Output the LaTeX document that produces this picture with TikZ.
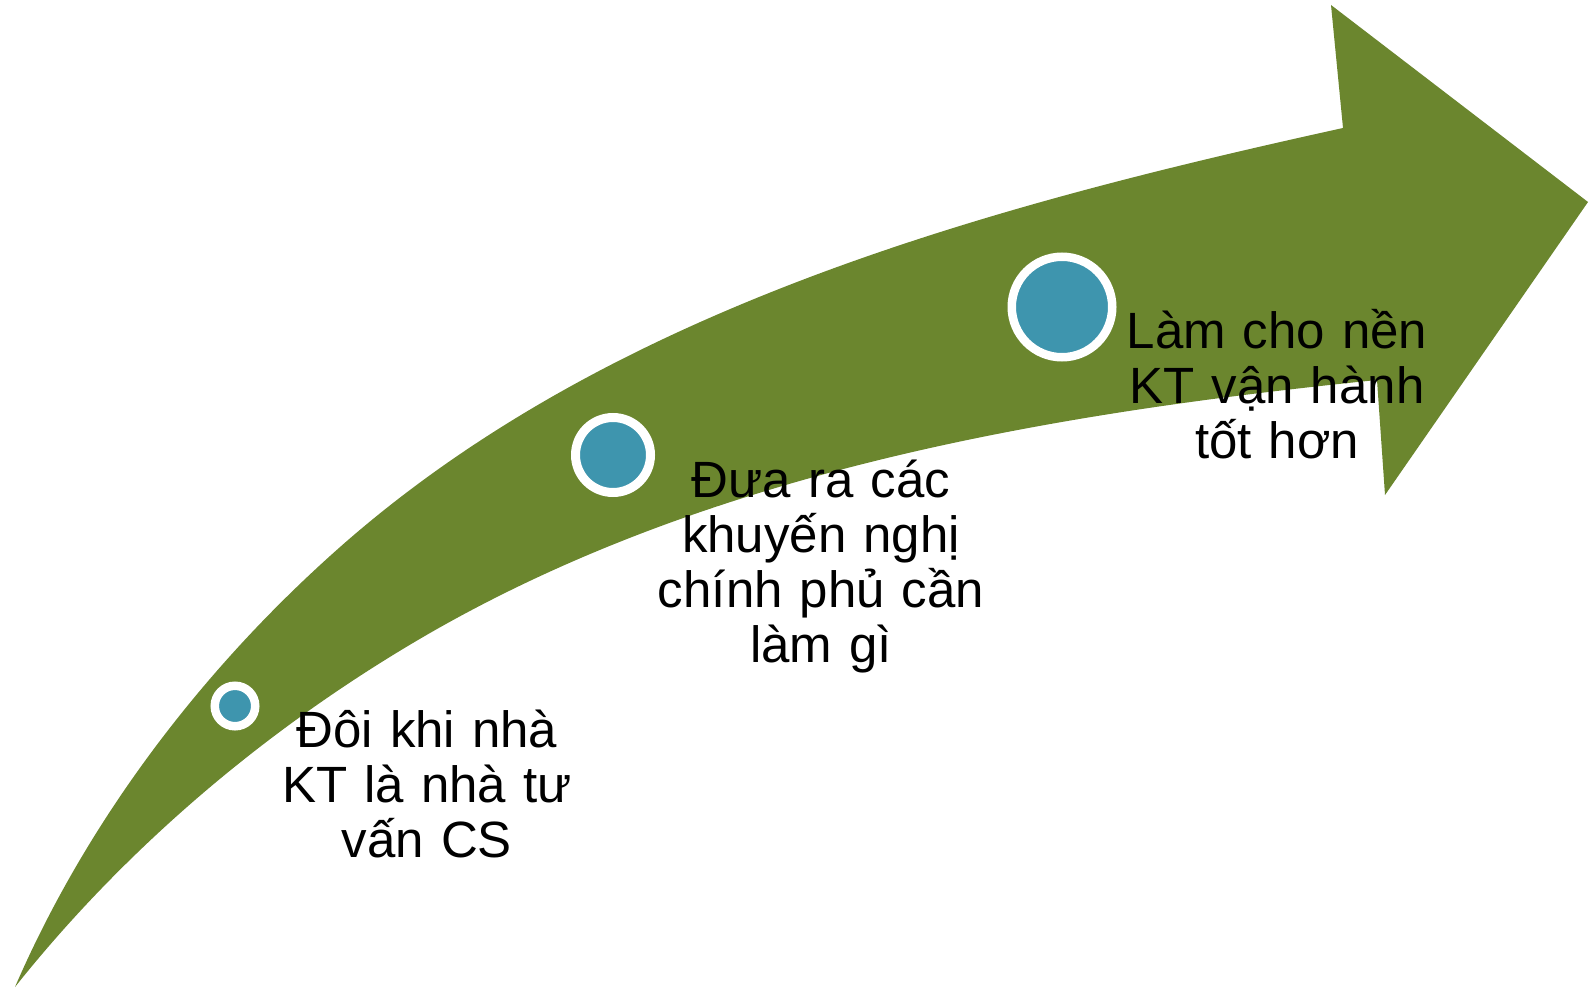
\documentclass[tikz,border=0pt]{standalone}
\usepackage{fontspec}
\setmainfont{Liberation Sans}
\definecolor{arrowgreen}{RGB}{107,134,46}
\definecolor{dotblue}{RGB}{62,149,174}
\begin{document}
\begin{tikzpicture}[x=1pt,y=-1pt,
  dotnode/.style={circle,fill=dotblue,draw=white,inner sep=0pt},
  label/.style={anchor=base,inner sep=0pt,text width=420pt,align=center,
    font=\fontsize{51}{55}\selectfont}]
\useasboundingbox (0,0) rectangle (1593,990);
\fill[arrowgreen]
  (15,987) .. controls (86,823) and (198,675) .. (330,556)
  .. controls (602,310) and (984,207) .. (1343,128)
  -- (1331,5) -- (1588,202) -- (1385,495) -- (1377,380)
  .. controls (1052,413) and (714,470) .. (430,633)
  .. controls (272,724) and (128,845) .. (15,987)
  -- cycle;
\node[dotnode,line width=8.5pt,minimum size=40.5pt] (d1) at (235,706) {};
\node[dotnode,line width=9pt,minimum size=75pt] (d2) at (613,455) {};
\node[dotnode,line width=8.5pt,minimum size=100.5pt] (d3) at (1062,307) {};
\node[label] (t1) at (427,747) {Đôi khi nhà\\KT là nhà tư\\vấn CS};
\node[label] (t2) at (821,497) {Đưa ra các\\khuyến nghị\\chính phủ cần\\làm gì};
\node[label] (t3) at (1277,348) {Làm cho nền\\KT vận hành\\tốt hơn};
\end{tikzpicture}
\end{document}
